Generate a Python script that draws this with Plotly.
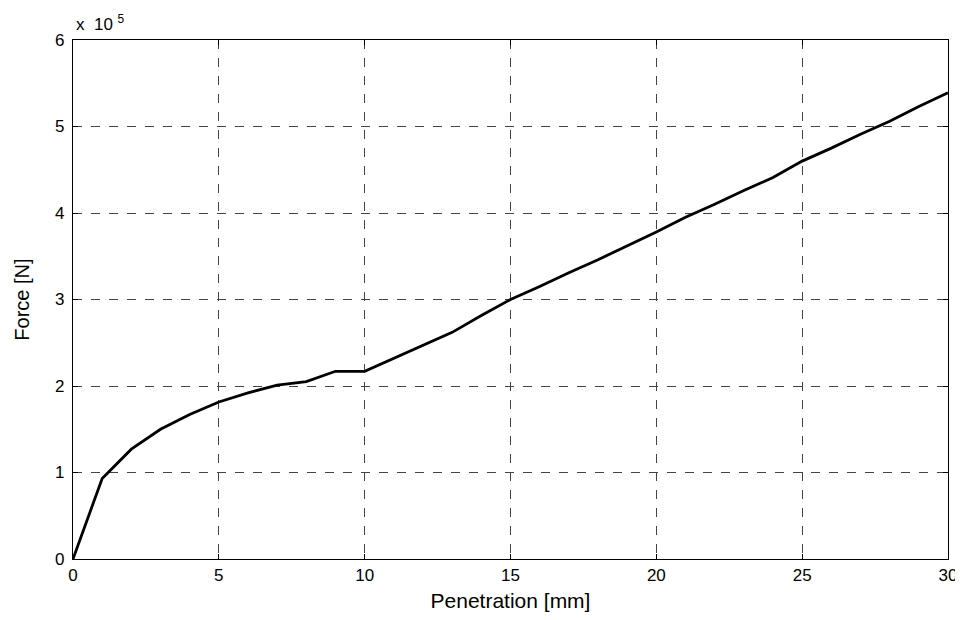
import plotly.graph_objects as go

penetration_mm = list(range(0, 31))
force_1e5_N = [0.0, 0.93, 1.27, 1.50, 1.67, 1.815, 1.92, 2.01, 2.05, 2.17, 2.17,
               2.32, 2.47, 2.62, 2.815, 3.0, 3.15, 3.31, 3.46, 3.62, 3.78,
               3.95, 4.10, 4.26, 4.41, 4.60, 4.75, 4.91, 5.06, 5.23, 5.39]
x_ticks = [0, 5, 10, 15, 20, 25, 30]
y_ticks = [0, 1, 2, 3, 4, 5, 6]

FONT = "Liberation Sans, Arial, sans-serif"

fig = go.Figure()
fig.add_trace(go.Scatter(x=penetration_mm, y=force_1e5_N, mode="lines",
                         line=dict(color="black", width=2.8), showlegend=False))

axis_common = dict(showline=True, linecolor="black", linewidth=1.2, mirror="ticks",
                   ticks="inside", ticklen=5, tickcolor="black", automargin=False,
                   showgrid=True, gridcolor="#444444", griddash="dash", gridwidth=1,
                   zeroline=False, tickfont=dict(family=FONT, size=17, color="black"))

fig.update_xaxes(range=[0, 30], tickvals=x_ticks, ticktext=[str(v) for v in x_ticks],
                 title=dict(text="Penetration [mm]", font=dict(family=FONT, size=21, color="black"), standoff=13),
                 **axis_common)
fig.update_yaxes(range=[0, 6], tickvals=y_ticks, ticktext=[str(v) for v in y_ticks],
                 ticklabelstandoff=4,
                 title=dict(text="Force [N]", font=dict(family=FONT, size=20, color="black"), standoff=20),
                 **axis_common)

fig.add_annotation(text="x\u00a0\u00a010\u00a0<sup>5</sup>", xref="paper", yref="paper", x=0.0, y=1.0,
                   xanchor="left", yanchor="bottom", yshift=4, xshift=1, showarrow=False,
                   font=dict(family=FONT, size=17, color="black"))

fig.update_layout(width=955, height=604, plot_bgcolor="white", paper_bgcolor="white",
                  margin=dict(l=65, r=15, t=32, b=53))

fig.write_html("out.html")
